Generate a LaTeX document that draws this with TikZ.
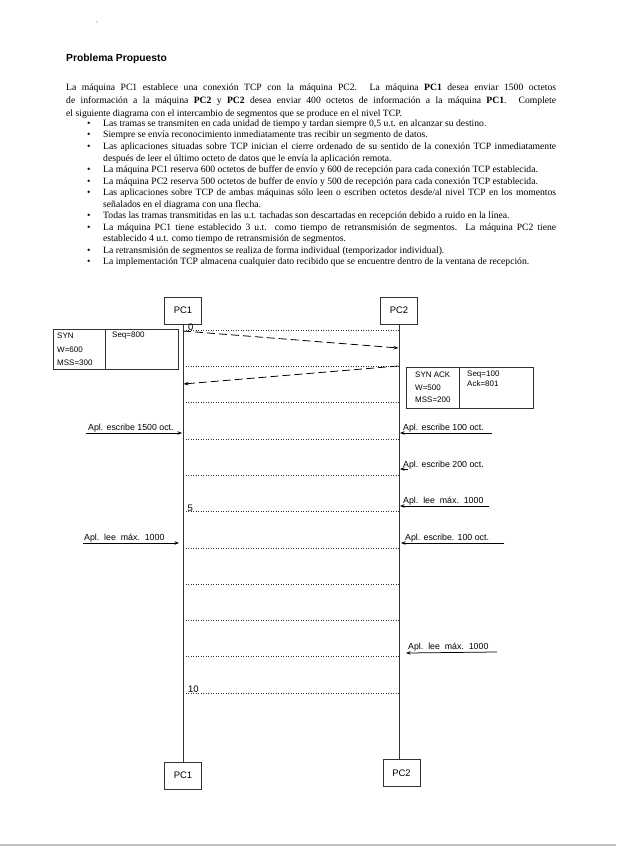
\documentclass[tikz,border=0pt]{standalone}
\usepackage{fontspec}
\setmainfont{Liberation Serif}
\newfontfamily\arialf{Liberation Sans}
\usetikzlibrary{arrows.meta}
\tikzset{
  body/.style={anchor=base west, inner sep=0pt, font=\fontsize{9.65}{11}\selectfont, text=black},
  bul/.style={anchor=base west, inner sep=0pt, font=\fontsize{9.65}{11}\selectfont},
  pcbox/.style={draw, minimum width=37pt, minimum height=27pt, inner sep=0pt, font=\arialf\fontsize{9.5}{10}\selectfont, line width=0.7pt, draw=black!80},
  tick/.style={dotted, line width=0.5pt, black!80},
  life/.style={line width=0.75pt, black!80},
  msg/.style={dash pattern=on 8pt off 4pt, line width=0.8pt, -{Stealth[length=5pt,width=3.5pt]}},
  apl/.style={line width=0.75pt, -{Stealth[length=4.5pt,width=3.5pt]}},
  apltext/.style={font=\arialf\fontsize{8.8}{9}\selectfont, inner sep=0pt, anchor=base west},
  celltext/.style={font=\arialf\fontsize{8}{9}\selectfont, inner sep=0pt, anchor=west},
  tlabel/.style={font=\arialf\fontsize{9.5}{10}\selectfont, inner sep=0pt, anchor=base west},
  cellbox/.style={draw, line width=0.7pt, black!80}
}
\newcommand{\jline}[4]{\node[body] (#1) at #2 {\makebox[#3][s]{#4}};}
\begin{document}
\begin{tikzpicture}[x=1pt,y=-1pt]
\useasboundingbox (0,0) rectangle (616,848);
\fill[white] (0,0) rectangle (616,848);
% scan artifacts
\fill[black!60] (97,22) circle (0.6);
\fill[black!25] (0,844) rectangle (616,846);
% title
\node[anchor=base west, inner sep=0pt, font=\arialf\bfseries\fontsize{10.3}{12}\selectfont] (title) at (66,62) {Problema Propuesto};
% paragraph
\jline{p1}{(66,90.5)}{490pt}{La máquina PC1 establece una conexión TCP con la máquina PC2. La máquina \textbf{PC1} desea enviar 1500 octetos}
\jline{p2}{(66,103.5)}{490pt}{de información a la máquina \textbf{PC2} y \textbf{PC2} desea enviar 400 octetos de información a la máquina \textbf{PC1}. Complete}
\node[body] (p3) at (66,116.5) {el siguiente diagrama con el intercambio de segmentos que se produce en el nivel TCP.};
% bullets
\foreach \yy [count=\k] in {126.5,138,149.5,172.5,184,195.5,218.5,230,253,264.5}
  \node[bul] (b\k) at (87,\yy) {\textbullet};
\node[body] (l1) at (103,126.5) {Las tramas se transmiten en cada unidad de tiempo y tardan siempre 0,5 u.t. en alcanzar su destino.};
\node[body] (l2) at (103,138) {Siempre se envía reconocimiento inmediatamente tras recibir un segmento de datos.};
\jline{l3}{(103,149.5)}{453pt}{Las aplicaciones situadas sobre TCP inician el cierre ordenado de su sentido de la conexión TCP inmediatamente}
\node[body] (l4) at (103,161) {después de leer el último octeto de datos que le envía la aplicación remota.};
\node[body] (l5) at (103,172.5) {La máquina PC1 reserva 600 octetos de buffer de envío y 600 de recepción para cada conexión TCP establecida.};
\node[body] (l6) at (103,184) {La máquina PC2 reserva 500 octetos de buffer de envío y 500 de recepción para cada conexión TCP establecida.};
\jline{l7}{(103,195.5)}{453pt}{Las aplicaciones sobre TCP de ambas máquinas sólo leen o escriben octetos desde/al nivel TCP en los momentos}
\node[body] (l8) at (103,207) {señalados en el diagrama con una flecha.};
\node[body] (l9) at (103,218.5) {Todas las tramas transmitidas en las u.t. tachadas son descartadas en recepción debido a ruido en la línea.};
\jline{l10}{(103,230)}{453pt}{La máquina PC1 tiene establecido 3 u.t. como tiempo de retransmisión de segmentos. La máquina PC2 tiene}
\node[body] (l11) at (103,241.5) {establecido 4 u.t. como tiempo de retransmisión de segmentos.};
\node[body] (l12) at (103,253) {La retransmisión de segmentos se realiza de forma individual (temporizador individual).};
\node[body] (l13) at (103,264.5) {La implementación TCP almacena cualquier dato recibido que se encuentre dentro de la ventana de recepción.};
% PC boxes
\node[pcbox] (pc1t) at (183,310.5) {PC1};
\node[pcbox] (pc2t) at (399,310.5) {PC2};
\node[pcbox] (pc1b) at (183,775.5) {PC1};
\node[pcbox] (pc2b) at (401.5,773) {PC2};
\draw[life] (pc1t.south) -- (pc1b.north);
\draw[life] (pc2t.south) -- (pc2t.south |- pc2b.north);
% time ticks
\foreach \i in {0,...,10} {
  \coordinate (L\i) at (183,330+36.3*\i);
  \coordinate (R\i) at (399,330+36.3*\i);
  \draw[tick] (L\i) -- (R\i);
}
\node[tlabel] (t0) at (188,330) {0};
\node[tlabel] (t5) at (187.5,511) {5};
\node[tlabel] (t10) at (188,692) {10};
% SYN box
\draw[cellbox] (53,329) rectangle (178,369);
\draw[cellbox] (105,329) -- (105,369);
\node[celltext] (s1) at (57,336) {SYN};
\node[celltext] (s2) at (57,350) {W=600};
\node[celltext] (s3) at (57,363) {MSS=300};
\node[celltext] (s4) at (112,336) {Seq=800};
% SYN ACK box
\draw[cellbox] (406,367) rectangle (533,408);
\draw[cellbox] (459,367) -- (459,408);
\node[celltext] (a1) at (415,375) {SYN ACK};
\node[celltext] (a2) at (415,387.5) {W=500};
\node[celltext] (a3) at (415,399.5) {MSS=200};
\node[celltext] (a4) at (467,375) {Seq=100};
\node[celltext] (a5) at (467,384) {Ack=801};
% segments
\coordinate (m1s) at (183,331);
\coordinate (m1e) at (398.5,348);
\coordinate (m2s) at (398,366);
\coordinate (m2e) at (183.5,384);
\draw[msg] (m1s) -- (m1e);
\draw[msg] (m2s) -- (m2e);
% application arrows
\coordinate (e1a) at (86,433);   \coordinate (e1b) at (182,433);
\draw[apl] (e1a) -- (e1b);
\node[apltext] (e1) at (88,430.5) {Apl. escribe 1500 oct.};
\coordinate (e2a) at (492,433);  \coordinate (e2b) at (400,433);
\draw[apl] (e2a) -- (e2b);
\node[apltext] (e2) at (403,430.5) {Apl. escribe 100 oct.};
\coordinate (e3a) at (408,469);  \coordinate (e3b) at (400,469);
\draw[apl] (e3a) -- (e3b);
\node[apltext] (e3) at (403,467.5) {Apl. escribe 200 oct.};
\coordinate (e4a) at (489,506);  \coordinate (e4b) at (400,506);
\draw[apl] (e4a) -- (e4b);
\node[apltext] (e4) at (403,503.5) {Apl.\ \ lee\ \ máx.\ \ 1000};
\coordinate (e5a) at (83,543);   \coordinate (e5b) at (179,543);
\draw[apl] (e5a) -- (e5b);
\node[apltext] (e5) at (84,540.5) {Apl.\ \ lee\ \ máx.\ \ 1000};
\coordinate (e6a) at (504,543);  \coordinate (e6b) at (401,543);
\draw[apl] (e6a) -- (e6b);
\node[apltext] (e6) at (405,540.5) {Apl. escribe. 100 oct.};
\coordinate (e7a) at (497,652);  \coordinate (e7b) at (406,653);
\draw[apl] (e7a) -- (e7b);
\node[apltext] (e7) at (408,649.5) {Apl.\ \ lee\ \ máx.\ \ 1000};
\end{tikzpicture}
\end{document}
